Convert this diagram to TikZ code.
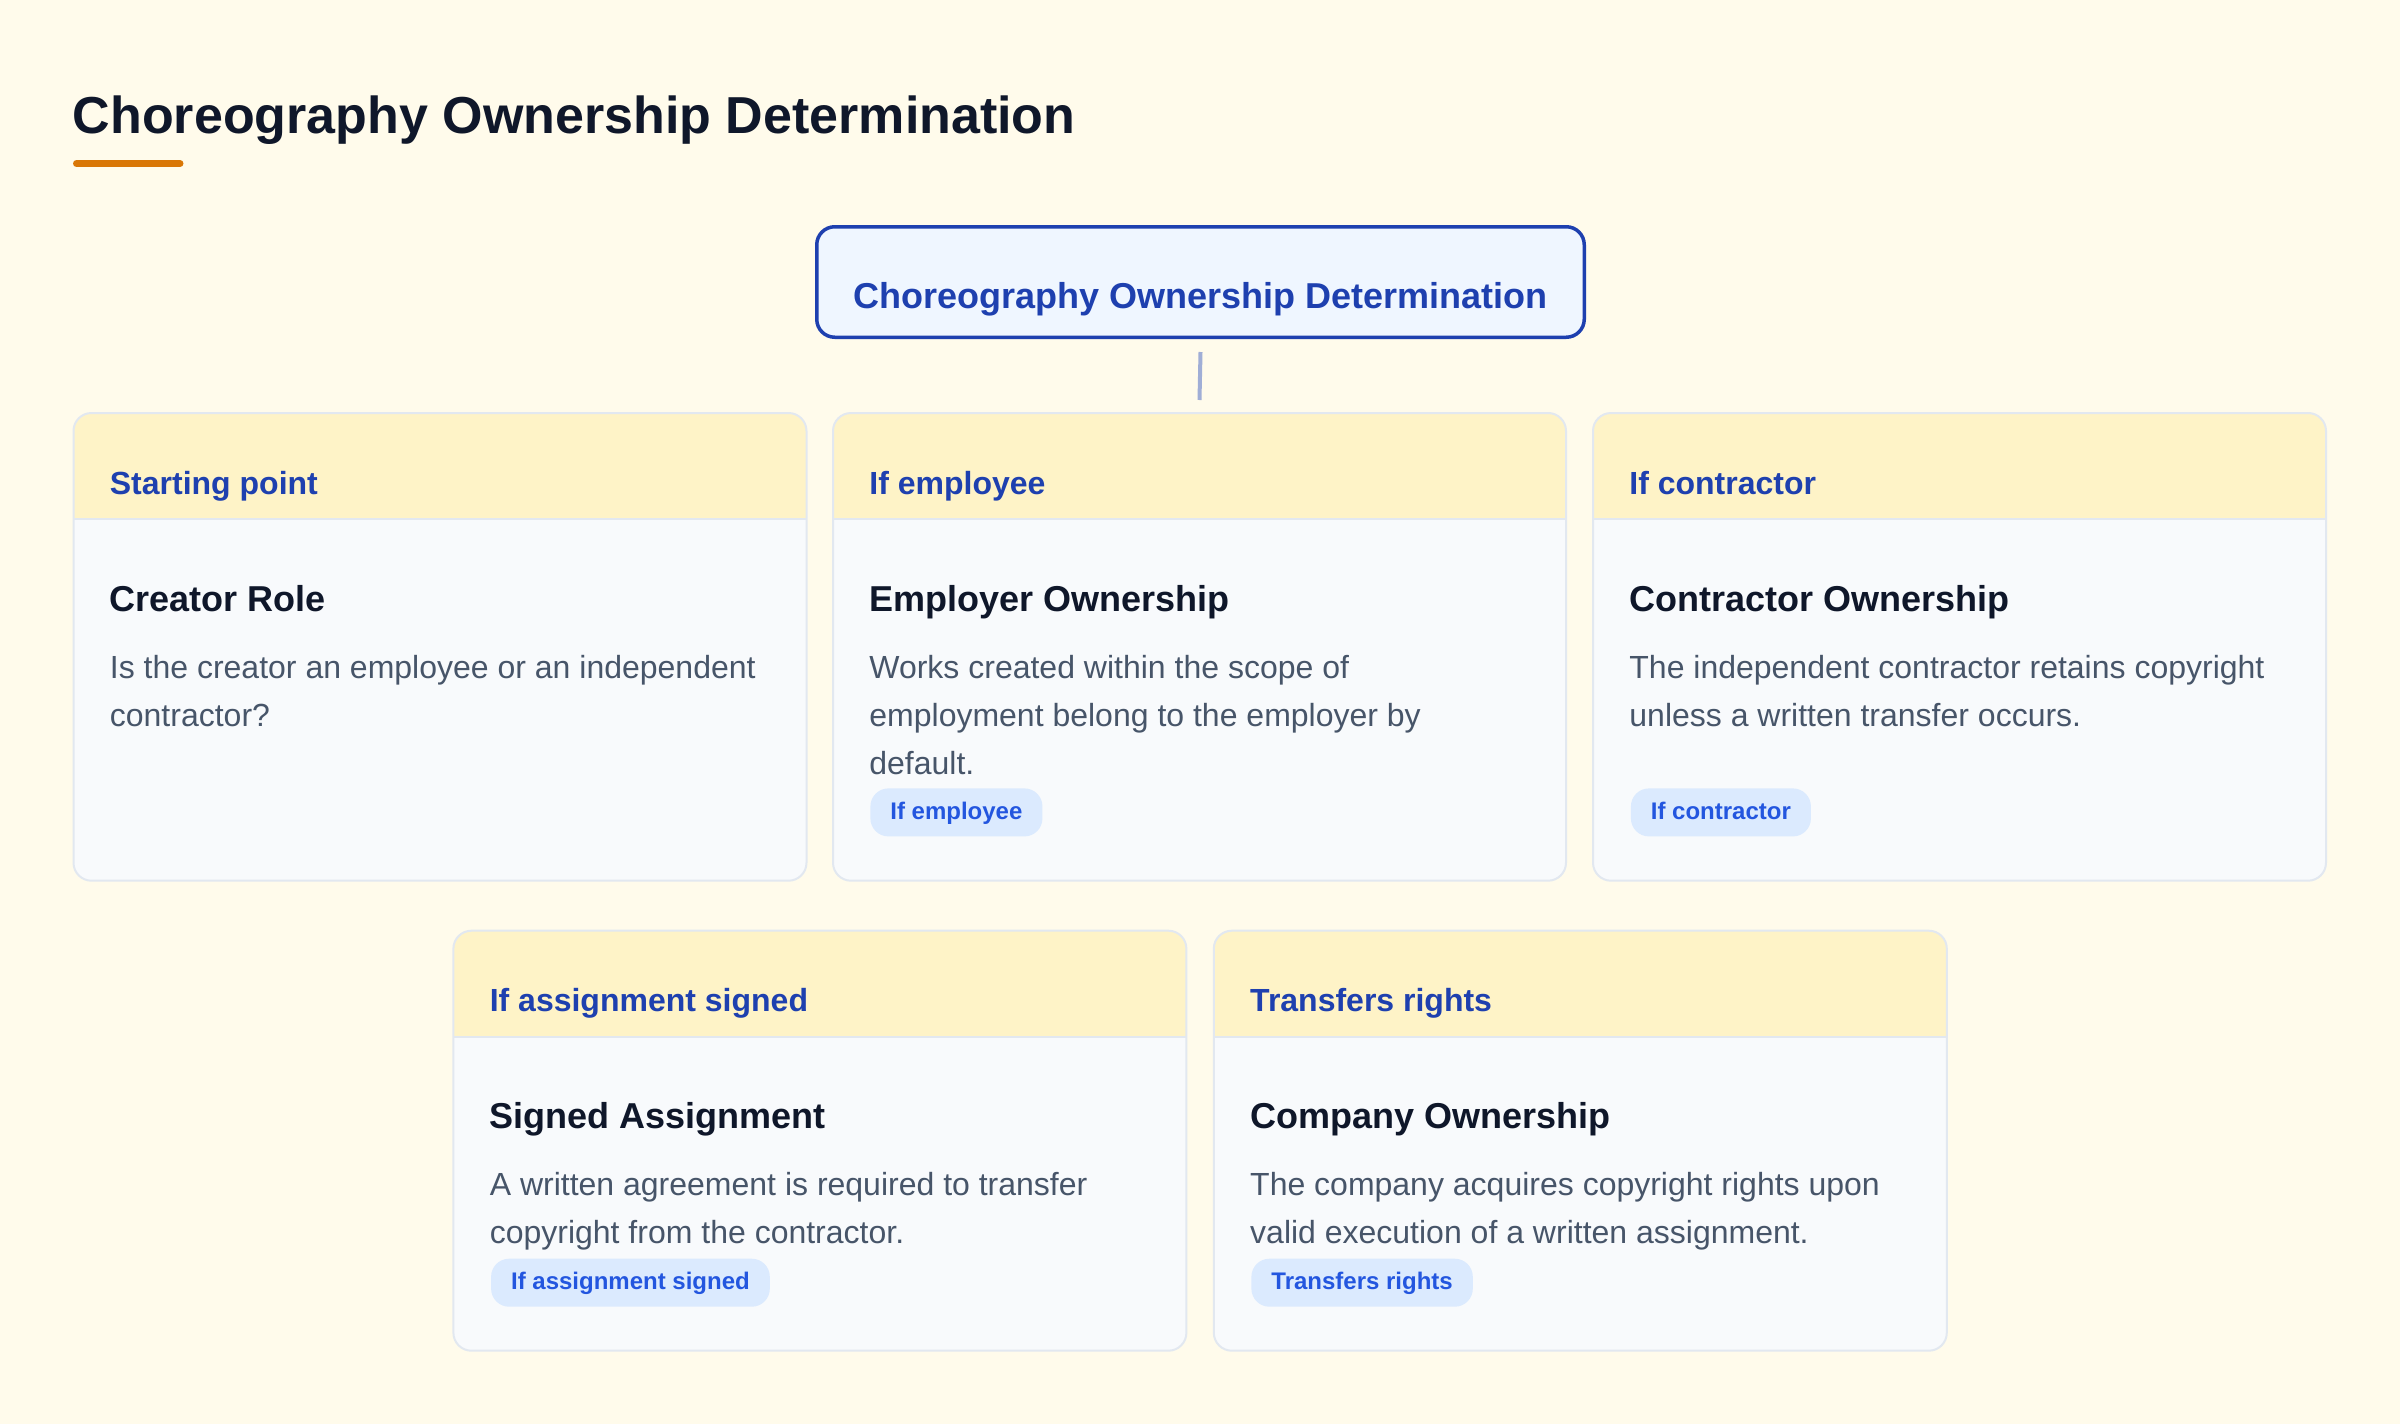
\documentclass[tikz,border=0pt]{standalone}
\usepackage{fontspec}
\setmainfont{Liberation Sans}
\definecolor{bgc}{HTML}{FFFBEB}
\definecolor{hdrfill}{HTML}{FEF3C7}
\definecolor{bodyfill}{HTML}{F8FAFC}
\definecolor{bordc}{HTML}{E2E8F0}
\definecolor{hdrc}{HTML}{1E40AF}
\definecolor{titlec}{HTML}{0F172A}
\definecolor{bodyc}{HTML}{475569}
\definecolor{tagfill}{HTML}{DBEAFE}
\definecolor{tagc}{HTML}{2356DF}
\definecolor{rootc}{HTML}{1E40AF}
\definecolor{rootfill}{HTML}{EFF6FF}
\definecolor{connc}{HTML}{A0AED6}
\definecolor{accent}{HTML}{D97706}
\newcommand\mkcard[7]{%
  \begin{scope}
    \clip[rounded corners=9pt] (#2,#3) rectangle ++(733,2*#4);
    \fill[bodyfill] (#2,#3) rectangle ++(733,2*#4);
    \fill[hdrfill] (#2,#3) rectangle ++(733,106);
    \draw[bordc, line width=1pt] (#2,#3+106) -- ++(733,0);
  \end{scope}
  \node[cardframe, minimum height=#4pt] (#1) at (#2,#3) {};
  \node[hdrtext] (#1-h) at (#2+36,#3+81) {#5};
  \node[titletext] (#1-t) at (#2+36,#3+198) {#6};
  \node[bodytext] (#1-b) at (#2+36,#3+265) {\parbox[t]{340pt}{\raggedright #7}};
}
\begin{document}
\begin{tikzpicture}[x=0.5pt,y=-0.5pt,
  cardframe/.style={draw=bordc, line width=1pt, rounded corners=9pt, inner sep=0pt, outer sep=0pt, anchor=north west, minimum width=366.5pt},
  hdrtext/.style={anchor=base west, inner sep=0pt, text=hdrc, font=\fontsize{16pt}{18pt}\selectfont\bfseries},
  titletext/.style={anchor=base west, inner sep=0pt, text=titlec, font=\fontsize{18pt}{21pt}\selectfont\bfseries},
  bodytext/.style={anchor=base west, inner sep=0pt, text=bodyc, font=\fontsize{16pt}{24pt}\selectfont},
  tagbox/.style={anchor=north west, fill=tagfill, text=tagc, rounded corners=9pt, inner xsep=10pt, inner ysep=0pt, minimum height=24pt, text height=8.6pt, text depth=1.5pt, font=\fontsize{12pt}{14pt}\selectfont\bfseries},
  rootbox/.style={draw=rootc, fill=rootfill, line width=1.75pt, rounded corners=9pt, minimum width=383.75pt, minimum height=55.25pt, inner sep=0pt, outer sep=0pt, text=rootc, font=\fontsize{18pt}{21pt}\selectfont\bfseries, text height=26pt, text depth=0pt},
  conn/.style={draw=connc, line width=2pt},
  pagetitle/.style={anchor=base west, inner sep=0pt, text=titlec, font=\fontsize{26pt}{30pt}\selectfont\bfseries}
]
\useasboundingbox (0,0) rectangle (2400,1424);
\fill[bgc] (0,0) rectangle (2400,1424);

\node[pagetitle] (title) at (72.5,133) {Choreography Ownership Determination};
\coordinate (ulA) at (76.5,163.5);
\coordinate (ulB) at (180,163.5);
\draw[accent, line width=3.5pt, line cap=round] (ulA) -- (ulB);

\node[rootbox] (root) at (1200.5,282) {Choreography Ownership Determination};

\mkcard{c1}{73.5}{413}{233.85}{Starting point}{Creator Role}{Is the creator an employee or an independent\\contractor?}
\mkcard{c2}{833}{413}{233.85}{If employee}{Employer Ownership}{Works created within the scope of\\employment belong to the employer by\\default.}
\mkcard{c3}{1593}{413}{233.85}{If contractor}{Contractor Ownership}{The independent contractor retains copyright\\unless a written transfer occurs.}
\mkcard{c4}{453.4}{930.7}{210}{If assignment signed}{Signed Assignment}{A written agreement is required to transfer\\copyright from the contractor.}
\mkcard{c5}{1213.8}{930.7}{210}{Transfers rights}{Company Ownership}{The company acquires copyright rights upon\\valid execution of a written assignment.}

\node[tagbox] (c2-g) at (870,788) {If employee};
\node[tagbox] (c3-g) at (1630.5,788) {If contractor};
\node[tagbox] (c4-g) at (490.7,1258.3) {If assignment signed};
\node[tagbox] (c5-g) at (1251,1258.3) {Transfers rights};

\draw[conn] ([yshift=-7.375pt]root.south) -- ([yshift=6.5pt]c2.north);
\end{tikzpicture}
\end{document}
